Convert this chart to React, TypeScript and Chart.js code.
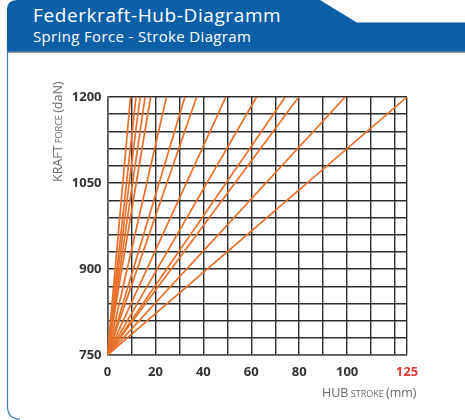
import React, { useEffect, useRef } from "react";
import { Chart, registerables } from "chart.js";

Chart.register(...registerables);

// Stroke (mm) at which each spring line reaches 1200 daN (all start at 0 mm / 750 daN)
const lineEndStroke: number[] = [9.6, 11.9, 13.6, 15.7, 18, 24.6, 32.3, 37.2, 49.4, 62.2, 74.2, 79.8, 99.2, 125];
const forceStart = 750;
const forceEnd = 1200;

const xGridValues: number[] = [0, 10, 20, 30, 40, 50, 60, 70, 80, 90, 100, 110, 120, 125];
const xTickLabels: number[] = [0, 20, 40, 60, 80, 100, 125];
const yGridValues: number[] = [750, 780, 810, 840, 870, 900, 930, 960, 990, 1020, 1050, 1080, 1110, 1140, 1170, 1200];
const yTickLabels: number[] = [750, 900, 1050, 1200];

const titleDe = "Federkraft-Hub-Diagramm";
const titleEn = "Spring Force - Stroke Diagram";

const FONT = "'Open Sans', 'Noto Sans', sans-serif";
const ORANGE = "#E8702A";
const BLUE = "#0A5FA6";

const axisTitlePlugin = {
  id: "axisTitles",
  afterDraw(chart: any) {
    const ctx = chart.ctx as CanvasRenderingContext2D;
    ctx.save();
    ctx.fillStyle = "#6b6b6b";
    ctx.textBaseline = "alphabetic";
    const parts = (segs: [string, number][], x: number, y: number) => {
      let cx = x;
      for (const [t, s] of segs) {
        ctx.font = `${s}px ${FONT}`;
        ctx.fillText(t, cx, y);
        cx += ctx.measureText(t).width;
      }
    };
    // Y title (rotated)
    ctx.save();
    ctx.translate(61.5, 182);
    ctx.rotate(-Math.PI / 2);
    parts([["KRAFT", 12.5], [" FORCE ", 9], ["(daN)", 12.5]], 0, 0);
    ctx.restore();
    // X title
    parts([["HUB", 12.5], [" STROKE ", 9], ["(mm)", 12.5]], 322, 397);
    ctx.restore();
  },
};

function SpringChart() {
  const ref = useRef<HTMLCanvasElement | null>(null);
  useEffect(() => {
    if (!ref.current) return;
    const datasets = lineEndStroke.map((e) => ({
      data: [
        { x: 0, y: forceStart },
        { x: e, y: forceEnd },
      ],
      showLine: true,
      borderColor: ORANGE,
      backgroundColor: ORANGE,
      borderWidth: 1.7,
      pointRadius: 0,
    }));
    const chart = new Chart(ref.current, {
      type: "scatter",
      data: { datasets },
      plugins: [axisTitlePlugin],
      options: {
        animation: false,
        responsive: false,
        devicePixelRatio: 1,
        layout: { padding: { top: 97, right: 58, left: 0, bottom: 0 } },
        plugins: { legend: { display: false }, tooltip: { enabled: false } },
        scales: {
          x: {
            type: "linear",
            min: 0,
            max: 125,
            afterBuildTicks: (s: any) => {
              s.ticks = xGridValues.map((v) => ({ value: v }));
            },
            afterFit: (s: any) => {
              s.height = 65;
            },
            grid: { color: "#2e2e2e", lineWidth: 1.4, drawTicks: false },
            border: { color: "#555", width: 1.6 },
            ticks: {
              autoSkip: false,
              maxRotation: 0,
              padding: 9,
              font: { family: FONT, size: 13, weight: "bold" },
              color: (c: any) => (c.tick && c.tick.value === 125 ? "#E53935" : "#333"),
              callback: (v: any) => (xTickLabels.includes(Number(v)) ? String(v) : ""),
            },
          },
          y: {
            type: "linear",
            min: 750,
            max: 1200,
            afterBuildTicks: (s: any) => {
              s.ticks = yGridValues.map((v) => ({ value: v }));
            },
            afterFit: (s: any) => {
              s.width = 107.5;
            },
            grid: { color: "#2e2e2e", lineWidth: 1.4, drawTicks: false },
            border: { color: "#555", width: 1.6 },
            ticks: {
              autoSkip: false,
              padding: 6,
              font: { family: FONT, size: 13, weight: "bold" },
              color: "#333",
              callback: (v: any) => (yTickLabels.includes(Number(v)) ? String(v) : ""),
            },
          },
        },
      },
    } as any);
    return () => chart.destroy();
  }, []);
  return (
    <canvas
      ref={ref}
      width={465}
      height={420}
      style={{ position: "absolute", left: 0, top: 0, width: 465, height: 420 }}
    />
  );
}

export default function App() {
  return (
    <div
      style={{
        position: "absolute",
        left: 0,
        top: 0,
        width: 465,
        height: 420,
        background: "#fff",
        overflow: "hidden",
        fontFamily: FONT,
      }}
    >
      <svg width={465} height={420} style={{ position: "absolute", left: 0, top: 0 }}>
        <path d="M7.5,40 L7.5,406 Q7.5,419 20,419" fill="none" stroke="#3b78bd" strokeWidth={1.2} />
        <path d="M7,52 L7,10 Q7,0 17,0 L320,0 L356,22 L465,22 L465,52 Z" fill={BLUE} />
        <line x1={356} y1={22.5} x2={465} y2={22.5} stroke="#8aa9c9" strokeWidth={1} />
        <line x1={7} y1={52} x2={465} y2={52} stroke="#6d7b88" strokeWidth={1.5} />
      </svg>
      <div
        style={{
          position: "absolute",
          left: 33,
          top: 3,
          color: "#fff",
          fontSize: 19,
          letterSpacing: 0.6,
          lineHeight: "24px",
          whiteSpace: "nowrap",
        }}
      >
        {titleDe}
      </div>
      <div
        style={{
          position: "absolute",
          left: 33,
          top: 27,
          color: "#fff",
          fontSize: 15,
          letterSpacing: 0.35,
          lineHeight: "18px",
          whiteSpace: "nowrap",
        }}
      >
        {titleEn}
      </div>
      <SpringChart />
    </div>
  );
}
